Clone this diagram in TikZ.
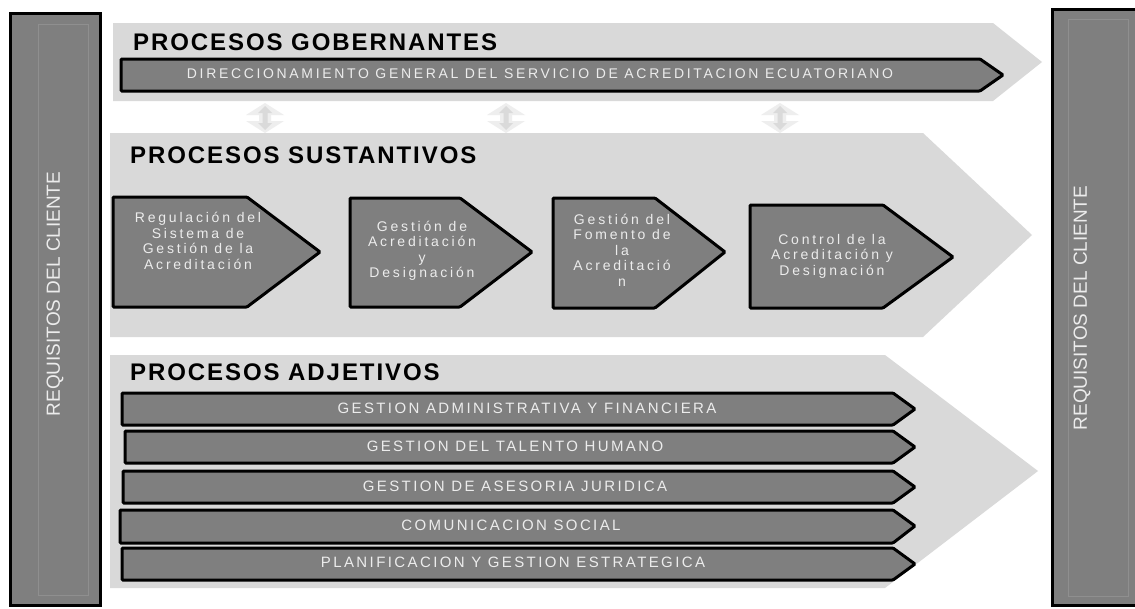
\documentclass[tikz,border=0pt]{standalone}
\usepackage{fontspec}
\setmainfont{Liberation Sans}
\newfontfamily\titlefont[LetterSpace=8]{Liberation Sans}
\newfontfamily\barfont[LetterSpace=16]{Liberation Sans}
\newfontfamily\govfont[LetterSpace=19]{Liberation Sans}
\newfontfamily\boxfont[LetterSpace=20]{Liberation Sans}
\definecolor{bandgray}{HTML}{D9D9D9}
\definecolor{boxgray}{HTML}{7F7F7F}
\definecolor{lighttext}{HTML}{ECECEC}
\definecolor{innerline}{HTML}{8F8F8F}
\definecolor{arrowlight}{HTML}{EEEEEE}
\definecolor{arrowdark}{HTML}{DADADA}
\tikzset{
  band/.style={fill=bandgray},
  procbox/.style={fill=boxgray, draw=black, line width=3pt, rounded corners=1pt},
  pillar/.style={fill=boxgray, draw=black, line width=3pt},
  pillarinner/.style={draw=innerline, line width=0.8pt},
  title/.style={anchor=west, inner sep=0pt, font=\titlefont\bfseries\fontsize{24}{27}\selectfont, text=black},
  bartext/.style={inner sep=0pt, text=lighttext, font=\barfont\fontsize{15}{17}\selectfont},
  govtext/.style={inner sep=0pt, text=lighttext, font=\govfont\fontsize{14}{16}\selectfont},
  boxtext/.style={inner sep=0pt, align=center, text=lighttext, font=\boxfont\fontsize{14}{15.5}\selectfont},
  pillartext/.style={inner sep=0pt, rotate=90, text=lighttext, font=\fontsize{19}{21}\selectfont},
  updown/.pic={
    \fill[arrowlight] (0,-15) -- (19,-3) -- (6,-3) -- (6,3) -- (19,3) -- (0,15) -- (-19,3) -- (-6,3) -- (-6,-3) -- (-19,-3) -- cycle;
    \fill[arrowdark] (0,-12) -- (7,-5) -- (2.5,-5) -- (2.5,5) -- (7,5) -- (0,12) -- (-7,5) -- (-2.5,5) -- (-2.5,-5) -- (-7,-5) -- cycle;
  }
}
\begin{document}
\begin{tikzpicture}[x=1pt,y=-1pt]
\useasboundingbox (0,0) rectangle (1135,608);
\fill[white] (0,0) rectangle (1135,608);

% client pillars
\draw[pillar] (10,13) rectangle (100,605);
\draw[pillarinner] (38,24) rectangle (88,595);
\node[pillartext] (reqL) at (55,294) {REQUISITOS DEL CLIENTE};

\draw[pillar] (1052,9) rectangle (1142,605);
\draw[pillarinner] (1068,19) rectangle (1128,596);
\node[pillartext] (reqR) at (1082,308) {REQUISITOS DEL CLIENTE};

% bands
\fill[band] (113,23) -- (993,23) -- (1042,62) -- (993,101) -- (113,101) -- cycle;
\fill[band] (110,133) -- (923,133) -- (1032,235) -- (923,337) -- (110,337) -- cycle;
\fill[band] (110,355) -- (885,355) -- (1038,471) -- (885,588) -- (110,588) -- cycle;

% double arrows
\pic at (265,118) {updown};
\pic at (506,118) {updown};
\pic at (780,118) {updown};

% titles
\node[title] (tGob) at (133,42) {PROCESOS GOBERNANTES};
\node[title] (tSus) at (130,155) {PROCESOS SUSTANTIVOS};
\node[title] (tAdj) at (130,372) {PROCESOS ADJETIVOS};

% governing bar
\draw[procbox] (121,59) -- (980,59) -- (1003,75) -- (980,91) -- (121,91) -- cycle;
\node[govtext] (gov) at (540,74) {DIRECCIONAMIENTO GENERAL DEL SERVICIO DE ACREDITACION ECUATORIANO};

% substantive pentagons
\draw[procbox] (113,197) -- (247,197) -- (320,252) -- (247,307) -- (113,307) -- cycle;
\node[boxtext] (s1) at (198,241) {Regulación del\\Sistema de\\Gestión de la\\Acreditación};
\draw[procbox] (350,198) -- (460,198) -- (532,252) -- (460,307) -- (350,307) -- cycle;
\node[boxtext] (s2) at (422,251) {Gestión de\\Acreditación\\y\\Designación};
\draw[procbox] (553,198) -- (655,198) -- (725,252) -- (655,308) -- (553,308) -- cycle;
\node[boxtext] (s3) at (622,250) {Gestión del\\Fomento de\\la\\Acreditació\\n};
\draw[procbox] (750,205) -- (883,205) -- (953,257) -- (883,308) -- (750,308) -- cycle;
\node[boxtext] (s4) at (832,256) {Control de la\\Acreditación y\\Designación};

% adjective bars
\draw[procbox] (122,393) -- (893,393) -- (915,409) -- (893,425) -- (122,425) -- cycle;
\node[bartext] (a1) at (527,408) {GESTION ADMINISTRATIVA Y FINANCIERA};
\draw[procbox] (125,431) -- (893,431) -- (915,447) -- (893,463) -- (125,463) -- cycle;
\node[bartext] (a2) at (515,446) {GESTION DEL TALENTO HUMANO};
\draw[procbox] (123,471) -- (893,471) -- (915,487) -- (893,503) -- (123,503) -- cycle;
\node[bartext] (a3) at (515,486) {GESTION DE ASESORIA JURIDICA};
\draw[procbox] (120,510) -- (893,510) -- (915,526) -- (893,543) -- (120,543) -- cycle;
\node[bartext] (a4) at (511,525) {COMUNICACION SOCIAL};
\draw[procbox] (122,548) -- (893,548) -- (915,564) -- (893,580) -- (122,580) -- cycle;
\node[bartext] (a5) at (513,562) {PLANIFICACION Y GESTION ESTRATEGICA};
\end{tikzpicture}
\end{document}
